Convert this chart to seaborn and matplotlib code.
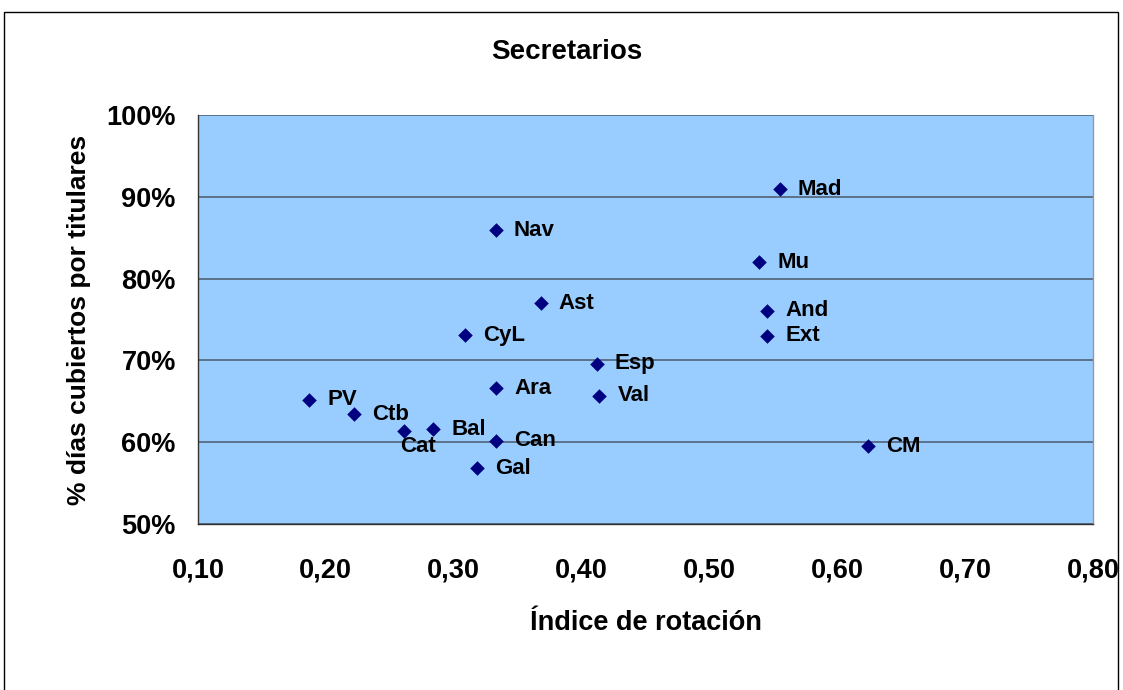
import matplotlib
matplotlib.use("Agg")
import matplotlib.pyplot as plt
from matplotlib.patches import Rectangle
from matplotlib.ticker import FuncFormatter, MultipleLocator
import seaborn as sns
import pandas as pd

# Regions and their values
regions = ["Mad", "Nav", "Mu", "Ast", "And", "Ext", "CyL", "Esp", "Ara", "Val",
           "PV", "Ctb", "Bal", "Cat", "Can", "CM", "Gal"]
rotation_index = [0.555, 0.333, 0.539, 0.368, 0.545, 0.545, 0.309, 0.412, 0.333, 0.414,
                  0.187, 0.222, 0.284, 0.261, 0.333, 0.624, 0.318]
pct_titulares = [90.9, 85.9, 82.0, 77.0, 76.1, 73.0, 73.1, 69.6, 66.6, 65.7,
                 65.2, 63.4, 61.6, 61.4, 60.2, 59.5, 56.8]

df = pd.DataFrame({"region": regions, "x": rotation_index, "y": pct_titulares})

sns.set_theme(style="white")
plt.rcParams["font.family"] = ["Liberation Sans", "DejaVu Sans"]
plt.rcParams["font.weight"] = "bold"
plt.rcParams["text.color"] = "black"
plt.rcParams["axes.labelcolor"] = "black"

fig = plt.figure(figsize=(11.23, 6.90), dpi=100)
ax = fig.add_axes([198 / 1123, 1 - 524 / 690, 895 / 1123, 409 / 690])
ax.set_facecolor("#99CCFF")

# outer chart frame
fig.patches.append(Rectangle((4 / 1123, -0.05), 1114 / 1123, 1.05 - 12 / 690,
                             transform=fig.transFigure, fill=False,
                             edgecolor="black", linewidth=1.0))

ax.set_xlim(0.10, 0.80)
ax.set_ylim(50, 100)
ax.xaxis.set_major_locator(MultipleLocator(0.10))
ax.yaxis.set_major_locator(MultipleLocator(10))
ax.xaxis.set_major_formatter(FuncFormatter(lambda v, p: f"{v:.2f}".replace(".", ",")))
ax.yaxis.set_major_formatter(FuncFormatter(lambda v, p: f"{v:.0f}%"))

ax.grid(axis="y", color="#4A5868", linewidth=1.1)
ax.set_axisbelow(True)

sns.scatterplot(data=df, x="x", y="y", ax=ax, marker="D", s=55,
                color="#000080", edgecolor="#000080", linewidth=0, zorder=3)

for r, x, y in zip(regions, rotation_index, pct_titulares):
    if r == "Cat":
        ax.annotate(r, (x, y), xytext=(-3, -11), textcoords="offset points",
                    ha="left", va="center", fontsize=16, fontweight="bold",
                    color="black")
    else:
        ax.annotate(r, (x, y), xytext=(13, 0), textcoords="offset points",
                    ha="left", va="center", fontsize=16, fontweight="bold",
                    color="black")

for side in ["left", "bottom"]:
    ax.spines[side].set_color("#333333")
    ax.spines[side].set_linewidth(1.0)
ax.spines["top"].set_visible(False)
ax.spines["right"].set_color("#999999")
ax.spines["right"].set_linewidth(1.0)

ax.tick_params(axis="both", which="major", direction="out", length=7,
               width=1, color="#555555", labelcolor="black", labelsize=19.5)
ax.tick_params(axis="x", pad=17)
ax.tick_params(axis="y", pad=9)
for lab in ax.get_xticklabels() + ax.get_yticklabels():
    lab.set_fontweight("bold")

ax.set_xlabel("Índice de rotación", fontsize=19.5, fontweight="bold", labelpad=19)
ax.set_ylabel("% días cubiertos por titulares", fontsize=19, fontweight="bold", labelpad=11)

fig.text(567 / 1123, 1 - 52 / 690, "Secretarios", ha="center", va="center",
         fontsize=20, fontweight="bold")

fig.savefig("out.png", dpi=100, facecolor="white")
